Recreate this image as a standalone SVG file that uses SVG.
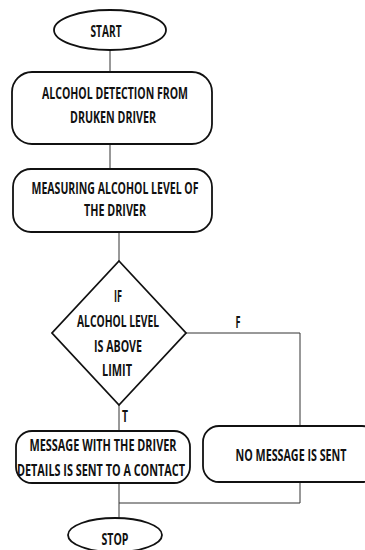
<svg xmlns="http://www.w3.org/2000/svg" width="365" height="550" viewBox="0 0 365 550">
<style>
.s{fill:#fff;stroke:#111;stroke-width:1.8}
.c{fill:none;stroke:#333;stroke-width:1}
text{font-family:"Open Sans","Liberation Sans",sans-serif;font-weight:bold;font-size:15.5px;fill:#111;text-anchor:middle}
</style>
<rect width="365" height="550" fill="#fff"/>
<g id="connectors">
<line class="c" x1="110" y1="50" x2="110" y2="72"/>
<line class="c" x1="110" y1="144" x2="110" y2="169"/>
<line class="c" x1="119" y1="232" x2="119" y2="261"/>
<polyline class="c" points="186,333 300,333 300,426"/>
<line class="c" x1="119" y1="405" x2="119" y2="431"/>
<line class="c" x1="119" y1="483" x2="119" y2="518"/>
<polyline class="c" points="300,482 300,503 119,503"/>
<text x="238" y="328" textLength="5" lengthAdjust="spacingAndGlyphs">F</text>
<text x="125" y="422" textLength="6" lengthAdjust="spacingAndGlyphs">T</text>
</g>
<g id="start">
<ellipse class="s" cx="110" cy="30" rx="56" ry="20"/>
<text x="106" y="37" textLength="31" lengthAdjust="spacingAndGlyphs">START</text>
</g>
<g id="detect">
<rect class="s" x="12" y="72" width="200" height="72" rx="20"/>
<text x="115" y="99" textLength="146" lengthAdjust="spacingAndGlyphs">ALCOHOL DETECTION FROM</text>
<text x="113" y="123" textLength="86" lengthAdjust="spacingAndGlyphs">DRUKEN DRIVER</text>
</g>
<g id="measure">
<rect class="s" x="13" y="169" width="199" height="63" rx="18"/>
<text x="115" y="194" textLength="167" lengthAdjust="spacingAndGlyphs">MEASURING ALCOHOL LEVEL OF</text>
<text x="115" y="216" textLength="62" lengthAdjust="spacingAndGlyphs">THE DRIVER</text>
</g>
<g id="decision">
<polygon class="s" points="119,261 186,333 119,405 52,333"/>
<text x="118" y="302" textLength="8" lengthAdjust="spacingAndGlyphs">IF</text>
<text x="118" y="327" textLength="82" lengthAdjust="spacingAndGlyphs">ALCOHOL LEVEL</text>
<text x="118" y="352" textLength="48" lengthAdjust="spacingAndGlyphs">IS ABOVE</text>
<text x="117" y="376" textLength="30" lengthAdjust="spacingAndGlyphs">LIMIT</text>
</g>
<g id="send">
<rect class="s" x="16" y="431" width="174" height="52" rx="16"/>
<text x="103" y="451" textLength="147" lengthAdjust="spacingAndGlyphs">MESSAGE WITH THE DRIVER</text>
<text x="101" y="476" textLength="168" lengthAdjust="spacingAndGlyphs">DETAILS IS SENT TO A CONTACT</text>
</g>
<g id="nosend">
<rect class="s" x="203" y="426" width="175" height="56" rx="16"/>
<text x="291" y="461" textLength="111" lengthAdjust="spacingAndGlyphs">NO MESSAGE IS SENT</text>
</g>
<g id="stop">
<ellipse class="s" cx="115" cy="535" rx="47" ry="17"/>
<text x="115" y="545" textLength="27" lengthAdjust="spacingAndGlyphs">STOP</text>
</g>
</svg>
